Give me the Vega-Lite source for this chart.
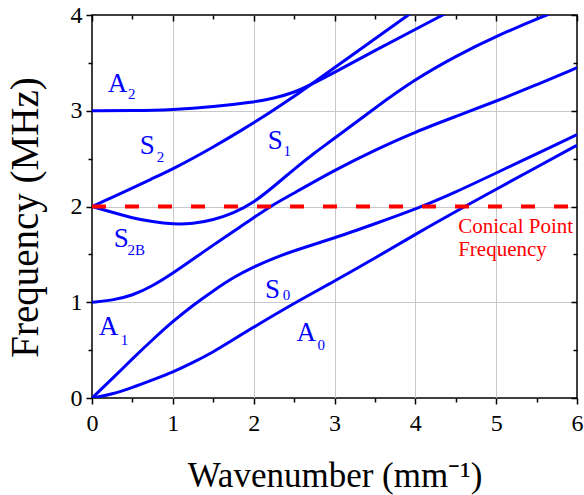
{
  "$schema": "https://vega.github.io/schema/vega-lite/v6.json",
  "width": 485,
  "height": 383,
  "autosize": {"type": "none"},
  "padding": {"left": 92, "top": 15, "right": 7, "bottom": 97},
  "background": "white",
  "config": {
    "view": {"stroke": "black", "strokeWidth": 1.5},
    "font": "Liberation Serif"
  },
  "datasets": {
    "curves": [
      {"mode": "A0", "x": 0, "y": 0}, {"mode": "A0", "x": 0.25, "y": 0.04}, {"mode": "A0", "x": 0.5, "y": 0.11}, {"mode": "A0", "x": 0.75, "y": 0.19}, {"mode": "A0", "x": 1, "y": 0.27}, {"mode": "A0", "x": 1.25, "y": 0.37}, {"mode": "A0", "x": 1.5, "y": 0.48}, {"mode": "A0", "x": 1.75, "y": 0.61}, {"mode": "A0", "x": 2, "y": 0.74}, {"mode": "A0", "x": 2.5, "y": 0.99}, {"mode": "A0", "x": 3, "y": 1.22}, {"mode": "A0", "x": 3.5, "y": 1.46}, {"mode": "A0", "x": 4, "y": 1.71}, {"mode": "A0", "x": 4.61, "y": 2.0}, {"mode": "A0", "x": 5, "y": 2.18}, {"mode": "A0", "x": 5.5, "y": 2.41}, {"mode": "A0", "x": 6, "y": 2.64},
      {"mode": "S0", "x": 0, "y": 0}, {"mode": "S0", "x": 0.25, "y": 0.2}, {"mode": "S0", "x": 0.5, "y": 0.41}, {"mode": "S0", "x": 0.75, "y": 0.61}, {"mode": "S0", "x": 1, "y": 0.8}, {"mode": "S0", "x": 1.25, "y": 0.97}, {"mode": "S0", "x": 1.5, "y": 1.12}, {"mode": "S0", "x": 1.75, "y": 1.26}, {"mode": "S0", "x": 2, "y": 1.37}, {"mode": "S0", "x": 2.25, "y": 1.46}, {"mode": "S0", "x": 2.5, "y": 1.54}, {"mode": "S0", "x": 3, "y": 1.67}, {"mode": "S0", "x": 3.5, "y": 1.82}, {"mode": "S0", "x": 4, "y": 1.97}, {"mode": "S0", "x": 4.5, "y": 2.15}, {"mode": "S0", "x": 5, "y": 2.35}, {"mode": "S0", "x": 5.5, "y": 2.55}, {"mode": "S0", "x": 6, "y": 2.75},
      {"mode": "A1", "x": 0, "y": 1.0}, {"mode": "A1", "x": 0.25, "y": 1.02}, {"mode": "A1", "x": 0.5, "y": 1.07}, {"mode": "A1", "x": 0.75, "y": 1.17}, {"mode": "A1", "x": 1, "y": 1.3}, {"mode": "A1", "x": 1.5, "y": 1.6}, {"mode": "A1", "x": 2, "y": 1.88}, {"mode": "A1", "x": 2.2, "y": 2.0}, {"mode": "A1", "x": 2.5, "y": 2.14}, {"mode": "A1", "x": 3, "y": 2.38}, {"mode": "A1", "x": 3.5, "y": 2.59}, {"mode": "A1", "x": 4, "y": 2.78}, {"mode": "A1", "x": 4.5, "y": 2.94}, {"mode": "A1", "x": 5, "y": 3.1}, {"mode": "A1", "x": 5.5, "y": 3.27}, {"mode": "A1", "x": 6, "y": 3.45},
      {"mode": "S2B", "x": 0, "y": 2.0}, {"mode": "S2B", "x": 0.25, "y": 1.94}, {"mode": "S2B", "x": 0.5, "y": 1.88}, {"mode": "S2B", "x": 0.75, "y": 1.84}, {"mode": "S2B", "x": 1, "y": 1.815}, {"mode": "S2B", "x": 1.25, "y": 1.82}, {"mode": "S2B", "x": 1.5, "y": 1.86}, {"mode": "S2B", "x": 1.75, "y": 1.93}, {"mode": "S2B", "x": 2, "y": 2.04}, {"mode": "S2B", "x": 2.25, "y": 2.21}, {"mode": "S2B", "x": 2.5, "y": 2.39}, {"mode": "S2B", "x": 2.75, "y": 2.56}, {"mode": "S2B", "x": 3, "y": 2.71}, {"mode": "S2B", "x": 3.5, "y": 3.03}, {"mode": "S2B", "x": 4, "y": 3.33}, {"mode": "S2B", "x": 4.5, "y": 3.57}, {"mode": "S2B", "x": 5, "y": 3.78}, {"mode": "S2B", "x": 5.62, "y": 4.0}, {"mode": "S2B", "x": 5.75, "y": 4.04},
      {"mode": "S2", "x": 0, "y": 2.0}, {"mode": "S2", "x": 0.37, "y": 2.14}, {"mode": "S2", "x": 0.74, "y": 2.29}, {"mode": "S2", "x": 1, "y": 2.39}, {"mode": "S2", "x": 1.5, "y": 2.62}, {"mode": "S2", "x": 1.86, "y": 2.8}, {"mode": "S2", "x": 2.2, "y": 2.98}, {"mode": "S2", "x": 2.45, "y": 3.12}, {"mode": "S2", "x": 2.7, "y": 3.27}, {"mode": "S2", "x": 3, "y": 3.45}, {"mode": "S2", "x": 3.5, "y": 3.75}, {"mode": "S2", "x": 3.93, "y": 4.01}, {"mode": "S2", "x": 4.05, "y": 4.08},
      {"mode": "A2", "x": 0, "y": 3.0}, {"mode": "A2", "x": 0.5, "y": 3.0}, {"mode": "A2", "x": 1, "y": 3.01}, {"mode": "A2", "x": 1.5, "y": 3.04}, {"mode": "A2", "x": 2, "y": 3.09}, {"mode": "A2", "x": 2.25, "y": 3.13}, {"mode": "A2", "x": 2.5, "y": 3.19}, {"mode": "A2", "x": 2.7, "y": 3.27}, {"mode": "A2", "x": 3, "y": 3.4}, {"mode": "A2", "x": 3.5, "y": 3.63}, {"mode": "A2", "x": 4, "y": 3.85}, {"mode": "A2", "x": 4.34, "y": 4.0}, {"mode": "A2", "x": 4.5, "y": 4.07}
    ],
    "dash": [{"x": 0, "y": 2}, {"x": 6, "y": 2}],
    "mainlabels": [
      {"t": "A", "x": 0.194, "y": 3.2},
      {"t": "S", "x": 0.59, "y": 2.55},
      {"t": "S", "x": 2.175, "y": 2.6},
      {"t": "S", "x": 0.27, "y": 1.58},
      {"t": "A", "x": 0.083, "y": 0.66},
      {"t": "S", "x": 2.14, "y": 1.04},
      {"t": "A", "x": 2.53, "y": 0.6}
    ],
    "sublabels": [
      {"t": "2", "x": 0.446, "y": 3.12},
      {"t": "2", "x": 0.8, "y": 2.46},
      {"t": "1", "x": 2.37, "y": 2.53},
      {"t": "2B", "x": 0.44, "y": 1.49},
      {"t": "1", "x": 0.355, "y": 0.55},
      {"t": "0", "x": 2.36, "y": 1.02},
      {"t": "0", "x": 2.79, "y": 0.5}
    ],
    "notes": [
      {"t": "Conical Point", "x": 4.53, "y": 1.72},
      {"t": "Frequency", "x": 4.53, "y": 1.48}
    ]
  },
  "layer": [
    {
      "data": {"name": "curves"},
      "mark": {"type": "line", "color": "#0000ff", "strokeWidth": 3, "interpolate": "basis", "clip": true},
      "encoding": {
        "x": {
          "field": "x", "type": "quantitative",
          "scale": {"domain": [0, 6], "nice": false, "zero": false},
          "axis": {
            "orient": "bottom",
            "values": [0, 0.5, 1, 1.5, 2, 2.5, 3, 3.5, 4, 4.5, 5, 5.5, 6],
            "labelExpr": "datum.value % 1 === 0 ? format(datum.value, 'd') : ''",
            "labelOverlap": false, "labelFlush": false,
            "tickSize": {"condition": {"test": "datum.value % 1 === 0", "value": 6}, "value": 4},
            "tickColor": "black", "tickWidth": 1.5,
            "domain": false,
            "grid": true, "gridColor": "#c8c8c8", "gridWidth": 1,
            "gridOpacity": {"condition": {"test": "datum.value % 1 === 0 && datum.value > 0 && datum.value < 6", "value": 1}, "value": 0},
            "labelFont": "Liberation Serif", "labelFontSize": 24, "labelColor": "black", "labelPadding": 7,
            "title": "Wavenumber (mm⁻¹)",
            "titleFont": "Liberation Serif", "titleFontSize": 35, "titleFontWeight": "normal", "titleColor": "black",
            "titleBaseline": "alphabetic", "titleY": 88
          }
        },
        "y": {
          "field": "y", "type": "quantitative",
          "scale": {"domain": [0, 4], "nice": false, "zero": false},
          "axis": {
            "orient": "left",
            "values": [0, 0.5, 1, 1.5, 2, 2.5, 3, 3.5, 4],
            "labelExpr": "datum.value % 1 === 0 ? format(datum.value, 'd') : ''",
            "labelOverlap": false, "labelFlush": false,
            "tickSize": {"condition": {"test": "datum.value % 1 === 0", "value": 6}, "value": 4},
            "tickColor": "black", "tickWidth": 1.5,
            "domain": false,
            "grid": true, "gridColor": "#c8c8c8", "gridWidth": 1,
            "gridOpacity": {"condition": {"test": "datum.value % 1 === 0 && datum.value > 0 && datum.value < 4", "value": 1}, "value": 0},
            "labelFont": "Liberation Serif", "labelFontSize": 24, "labelColor": "black", "labelPadding": 4,
            "title": "Frequency (MHz)",
            "titleFont": "Liberation Serif", "titleFontSize": 39, "titleFontWeight": "normal", "titleColor": "black",
            "titleBaseline": "alphabetic", "titleX": -55, "titleY": 202
          }
        },
        "detail": {"field": "mode", "type": "nominal"}
      }
    },
    {
      "data": {"name": "dash"},
      "mark": {"type": "line", "color": "#ff0000", "strokeWidth": 4, "strokeDash": [14, 19]},
      "encoding": {
        "x": {
          "field": "x", "type": "quantitative",
          "axis": {
            "orient": "top",
            "values": [0, 0.5, 1, 1.5, 2, 2.5, 3, 3.5, 4, 4.5, 5, 5.5, 6],
            "labels": false, "domain": false, "grid": false, "title": null,
            "tickSize": {"condition": {"test": "datum.value % 1 === 0", "value": -6}, "value": -4},
            "tickColor": "black", "tickWidth": 1.5
          }
        },
        "y": {
          "field": "y", "type": "quantitative",
          "axis": {
            "orient": "right",
            "values": [0, 0.5, 1, 1.5, 2, 2.5, 3, 3.5, 4],
            "labels": false, "domain": false, "grid": false, "title": null,
            "tickSize": {"condition": {"test": "datum.value % 1 === 0", "value": -6}, "value": -4},
            "tickColor": "black", "tickWidth": 1.5
          }
        }
      }
    },
    {
      "data": {"name": "mainlabels"},
      "mark": {"type": "text", "color": "#0000ff", "font": "Liberation Serif", "fontSize": 27, "align": "left", "baseline": "alphabetic"},
      "encoding": {
        "x": {"field": "x", "type": "quantitative", "axis": null},
        "y": {"field": "y", "type": "quantitative", "axis": null},
        "text": {"field": "t"}
      }
    },
    {
      "data": {"name": "sublabels"},
      "mark": {"type": "text", "color": "#0000ff", "font": "Liberation Serif", "fontSize": 15, "align": "left", "baseline": "alphabetic"},
      "encoding": {
        "x": {"field": "x", "type": "quantitative", "axis": null},
        "y": {"field": "y", "type": "quantitative", "axis": null},
        "text": {"field": "t"}
      }
    },
    {
      "data": {"name": "notes"},
      "mark": {"type": "text", "color": "#ff0000", "font": "Liberation Serif", "fontSize": 21, "align": "left", "baseline": "alphabetic"},
      "encoding": {
        "x": {"field": "x", "type": "quantitative", "axis": null},
        "y": {"field": "y", "type": "quantitative", "axis": null},
        "text": {"field": "t"}
      }
    }
  ],
  "resolve": {"axis": {"x": "independent", "y": "independent"}}
}
